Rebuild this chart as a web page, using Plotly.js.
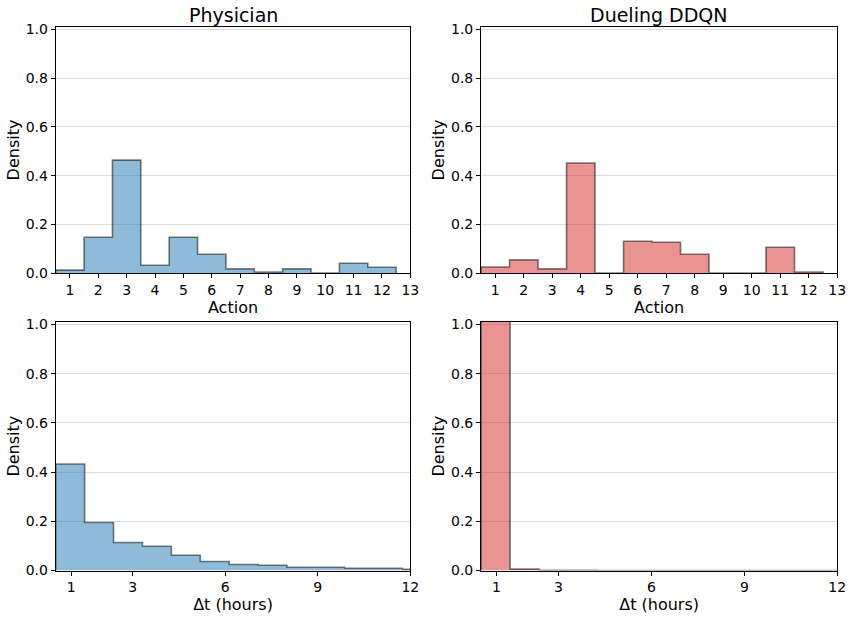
<!DOCTYPE html>
<html>
<head>
<meta charset="utf-8">
<script src="https://cdn.plot.ly/plotly-3.0.1.min.js"></script>
<style>html,body{margin:0;padding:0;background:#fff;}#chart{width:852px;height:620px;}</style>
</head>
<body>
<div id="chart"></div>
<script>
// Action histograms: bins centred on actions 1..12 (width 1)
const actionEdges = [0.5, 1.5, 2.5, 3.5, 4.5, 5.5, 6.5, 7.5, 8.5, 9.5, 10.5, 11.5, 12.5];
const physicianAction = [0.013, 0.148, 0.464, 0.033, 0.148, 0.078, 0.018, 0.0055, 0.018, 0.0015, 0.041, 0.025];
const ddqnAction      = [0.026, 0.055, 0.018, 0.452, 0.0015, 0.1315, 0.127, 0.078, 0.0015, 0.0015, 0.107, 0.0055];

// Δt histograms (hours)
const dtEdges = [0.5, 1.4375, 2.375, 3.3125, 4.25, 5.1875, 6.125, 7.0625, 8.0, 8.9375, 9.875, 10.8125, 11.75, 12.6875];
const physicianDt = [0.433, 0.1955, 0.114, 0.099, 0.0625, 0.0367, 0.0245, 0.0217, 0.0136, 0.0136, 0.0095, 0.0095, 0.005];
const ddqnDt      = [1.067, 0.006, 0.001, 0.0008, 0.0006, 0.0005, 0.0004, 0.0003, 0.0003, 0.0002, 0.0002, 0.0002, 0.0001];

const actionTicks = [1,2,3,4,5,6,7,8,9,10,11,12,13];
const dtTicks = [1, 3, 6, 9, 12];
const yTicks = [0, 0.2, 0.4, 0.6, 0.8, 1.0];

const BLUE = 'rgba(31,119,180,0.5)';
const RED = 'rgba(214,39,40,0.5)';
const EDGE = 'rgba(0,0,0,0.5)';

function stepTrace(edges, vals, color, xa, ya) {
  const x = [edges[0]];
  const y = [0];
  for (let i = 0; i < vals.length; i++) { x.push(edges[i]); y.push(vals[i]); }
  x.push(edges[vals.length]); y.push(0);
  return {
    type: 'scatter', mode: 'lines', x: x, y: y,
    line: {shape: 'hv', color: EDGE, width: 1.6},
    fill: 'tozeroy', fillcolor: color,
    xaxis: xa, yaxis: ya, showlegend: false, hoverinfo: 'skip'
  };
}

const data = [
  stepTrace(actionEdges, physicianAction, BLUE, 'x', 'y'),
  stepTrace(actionEdges, ddqnAction, RED, 'x2', 'y2'),
  stepTrace(dtEdges, physicianDt, BLUE, 'x3', 'y3'),
  stepTrace(dtEdges, ddqnDt, RED, 'x4', 'y4')
];

const FONT = 'DejaVu Sans, sans-serif';
function xaxis(domain, range, ticks, title, anchor) {
  return {
    domain: domain, range: range, anchor: anchor,
    tickmode: 'array', tickvals: ticks, ticktext: ticks.map(String),
    showgrid: false, zeroline: false,
    showline: true, linecolor: '#000', linewidth: 1, mirror: true,
    ticks: 'outside', ticklen: 4, tickwidth: 1, tickcolor: '#000',
    tickfont: {family: FONT, size: 14, color: '#000'},
    title: {text: title, font: {family: FONT, size: 16, color: '#000'}, standoff: 0}
  };
}
function yaxis(domain, anchor) {
  return {
    domain: domain, range: [0, 1.0107], anchor: anchor,
    tickmode: 'array', tickvals: yTicks, ticktext: yTicks.map(v => v.toFixed(1)),
    showgrid: true, gridcolor: '#dcdcdc', gridwidth: 1, zeroline: false,
    showline: true, linecolor: '#000', linewidth: 1, mirror: true,
    ticks: 'outside', ticklen: 4, tickwidth: 1, tickcolor: '#000',
    tickfont: {family: FONT, size: 14, color: '#000'},
    title: {text: 'Density', font: {family: FONT, size: 16, color: '#000'}, standoff: 2}
  };
}

const xL = [0.0654, 0.4816], xR = [0.5646, 0.9827];
const yT = [0.5592, 0.9569], yB = [0.0797, 0.4811];

const layout = {
  width: 852, height: 620,
  margin: {l: 0, r: 0, t: 0, b: 0},
  paper_bgcolor: '#fff', plot_bgcolor: '#fff',
  showlegend: false,
  xaxis:  xaxis(xL, [0.5, 13], actionTicks, 'Action', 'y'),
  yaxis:  yaxis(yT, 'x'),
  xaxis2: xaxis(xR, [0.5, 13], actionTicks, 'Action', 'y2'),
  yaxis2: yaxis(yT, 'x2'),
  xaxis3: xaxis(xL, [0.5, 12], dtTicks, 'Δt (hours)', 'y3'),
  yaxis3: yaxis(yB, 'x3'),
  xaxis4: xaxis(xR, [0.5, 12], dtTicks, 'Δt (hours)', 'y4'),
  yaxis4: yaxis(yB, 'x4'),
  annotations: [
    {text: 'Physician', xref: 'paper', yref: 'paper', x: (xL[0]+xL[1])/2, y: 1 - 15/620,
     xanchor: 'center', yanchor: 'middle', showarrow: false, font: {family: FONT, size: 19, color: '#000'}},
    {text: 'Dueling DDQN', xref: 'paper', yref: 'paper', x: (xR[0]+xR[1])/2, y: 1 - 15/620,
     xanchor: 'center', yanchor: 'middle', showarrow: false, font: {family: FONT, size: 19, color: '#000'}}
  ]
};

Plotly.newPlot('chart', data, layout, {displayModeBar: false, staticPlot: true});
</script>
</body>
</html>
